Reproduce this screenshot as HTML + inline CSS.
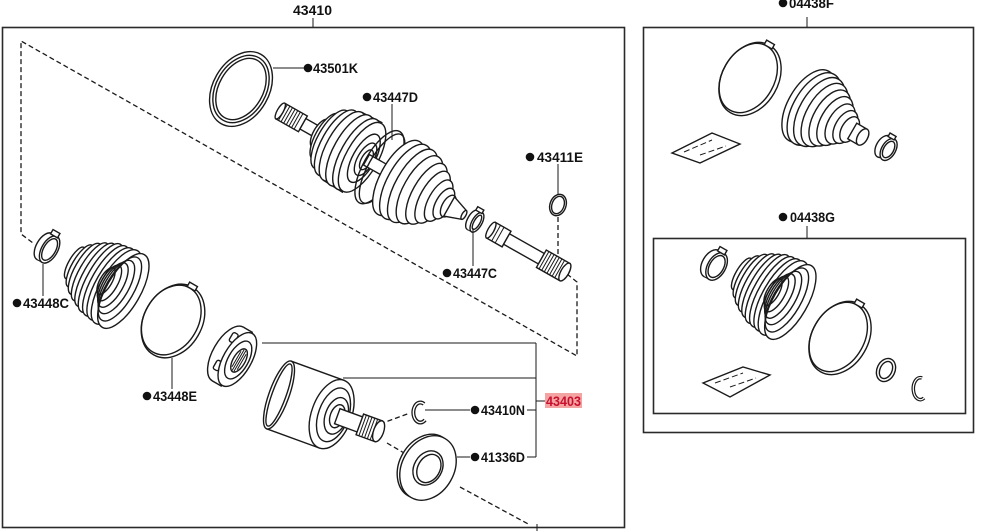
<!DOCTYPE html>
<html><head><meta charset="utf-8"><style>
html,body{margin:0;padding:0;background:#fff}
svg{display:block}
.s{fill:#fff;stroke:#1a1a1a;stroke-width:1.4}
.n{fill:none;stroke:#1a1a1a;stroke-width:1.4}
.l{fill:none;stroke:#1a1a1a;stroke-width:1}
.d{fill:none;stroke:#1a1a1a;stroke-width:1.3;stroke-dasharray:5 3}
.b{fill:none;stroke:#2a2a2a;stroke-width:1.6}
text{font-family:"Liberation Sans",sans-serif;font-weight:bold;font-size:14px;fill:#111}
</style></head><body>
<svg width="981" height="531" viewBox="0 0 981 531" xmlns="http://www.w3.org/2000/svg">
<rect width="981" height="531" fill="#fff"/>

<!-- frames -->
<rect class="b" x="2.5" y="27.5" width="622" height="500"/>
<rect class="b" x="643.5" y="27.5" width="330" height="405"/>
<rect class="b" x="653.5" y="238.5" width="312" height="175"/>

<!-- dashed outline -->
<path class="d" d="M567,274 L577,282 L577,356 L21,41 L21,234 L33,243"/>
<path class="d" d="M558,217 L558,262"/>
<path class="d" d="M380,424 L410,413"/>
<path class="d" d="M387,443 L404,453"/>
<path class="d" d="M460,487 L530,525"/>
<path class="l" d="M537,524 L537,531"/>

<!-- ring 43501K -->
<g transform="translate(241,89) rotate(30)">
<ellipse class="n" cx="0" cy="0" rx="28" ry="40"/>
<ellipse class="n" cx="0" cy="0" rx="25" ry="36"/>
<ellipse class="n" cx="0" cy="0" rx="22" ry="33"/>
</g>

<!-- top shaft assembly -->
<g transform="translate(282,112) rotate(29.5)">
<rect class="s" x="-2" y="-9" width="26" height="18"/>
<path class="l" d="M1,-9V9M4,-9V9M7,-9V9M10,-9V9M13,-9V9M16,-9V9M19,-9V9"/>
<ellipse class="s" cx="-2" cy="0" rx="3" ry="9"/>
<rect class="s" x="24" y="-6" width="22" height="12"/>
<path class="s" d="M44,-16 L56,-33 L70,-39 L92,-40 L92,40 L70,39 L56,33 L44,16 Z"/>
<ellipse class="s" cx="44" cy="0" rx="7" ry="16"/>
<ellipse class="s" cx="50" cy="0" rx="10" ry="26"/>
<ellipse class="s" cx="56" cy="0" rx="13" ry="33"/>
<ellipse class="s" cx="63" cy="0" rx="15" ry="37"/>
<ellipse class="s" cx="70" cy="0" rx="16" ry="39"/>
<ellipse class="s" cx="78" cy="0" rx="16" ry="40"/>
<ellipse class="s" cx="86" cy="0" rx="16" ry="40"/>
<ellipse class="s" cx="92" cy="0" rx="16" ry="39"/>
<ellipse class="n" cx="94" cy="0" rx="11" ry="27"/>
<ellipse class="n" cx="96" cy="0" rx="8" ry="18"/>
<ellipse class="n" cx="97" cy="0" rx="5" ry="11"/>
<rect class="s" x="97" y="-6" width="44" height="12"/>
<ellipse class="n" cx="112" cy="0" rx="16" ry="41"/>
<ellipse class="n" cx="115" cy="0" rx="14" ry="39"/>
<ellipse class="s" cx="134" cy="0" rx="18" ry="42"/>
<ellipse class="s" cx="142" cy="0" rx="18" ry="42"/>
<ellipse class="s" cx="150" cy="0" rx="17" ry="41"/>
<ellipse class="s" cx="158" cy="0" rx="16" ry="38"/>
<ellipse class="s" cx="166" cy="0" rx="14" ry="34"/>
<ellipse class="s" cx="173" cy="0" rx="12" ry="29"/>
<ellipse class="s" cx="180" cy="0" rx="10" ry="23"/>
<ellipse class="s" cx="186" cy="0" rx="8" ry="17"/>
<ellipse class="s" cx="191" cy="0" rx="6" ry="12"/>
<path class="s" d="M192,-11 L209,-5 L209,5 L192,11 Z"/>
<ellipse class="s" cx="209" cy="0" rx="2" ry="5"/>
<!-- clamp 43447C -->
<ellipse class="s" cx="219" cy="0" rx="5" ry="11"/>
<rect x="219" y="-11" width="5" height="22" fill="#fff"/>
<path class="l" d="M219,-11H224M219,11H224"/>
<ellipse class="s" cx="224" cy="0" rx="5" ry="11"/>
<ellipse class="n" cx="224" cy="0" rx="3" ry="8"/>
<rect class="s" x="217" y="-14" width="7" height="4"/>
<!-- inner shaft -->
<rect class="s" x="240" y="-9" width="18" height="18"/>
<ellipse class="s" cx="240" cy="0" rx="3" ry="9"/>
<path class="l" d="M246,-9V9M250,-9V9"/>
<rect class="s" x="258" y="-6" width="40" height="12"/>
<rect class="s" x="298" y="-10" width="27" height="20"/>
<path class="l" d="M301,-10V10M304,-10V10M307,-10V10M310,-10V10M313,-10V10M316,-10V10M319,-10V10"/>
<ellipse class="s" cx="325" cy="0" rx="4" ry="10"/>
</g>

<!-- ring 43411E -->
<g transform="translate(558,205) rotate(20)">
<ellipse class="n" cx="0" cy="0" rx="8" ry="11"/>
<ellipse class="n" cx="0" cy="0" rx="6" ry="9"/>
</g>

<!-- clamp 43448C -->
<g transform="translate(47,248) rotate(30)">
<ellipse class="s" cx="-3" cy="0" rx="8" ry="15"/>
<rect x="-3" y="-15" width="6" height="30" fill="#fff"/>
<path class="l" d="M-3,-15H3M-3,15H3"/>
<ellipse class="s" cx="3" cy="0" rx="8" ry="15"/>
<ellipse class="n" cx="3" cy="0" rx="6" ry="12"/>
<rect class="s" x="-4" y="-19" width="8" height="5"/>
</g>

<!-- boot left (43448C boot) -->
<g transform="translate(106,281) rotate(30)">
<ellipse class="s" cx="-36" cy="0" rx="6" ry="18"/>
<ellipse class="s" cx="-30" cy="0" rx="8" ry="24"/>
<ellipse class="s" cx="-24" cy="0" rx="10" ry="29"/>
<ellipse class="s" cx="-18" cy="0" rx="11" ry="33"/>
<ellipse class="s" cx="-12" cy="0" rx="12" ry="36"/>
<ellipse class="s" cx="-6" cy="0" rx="13" ry="39"/>
<ellipse class="s" cx="0" cy="0" rx="14" ry="40"/>
<ellipse class="s" cx="6" cy="0" rx="15" ry="41"/>
<ellipse class="s" cx="12" cy="0" rx="16" ry="42"/>
<ellipse class="s" cx="20" cy="0" rx="17" ry="42"/>
<ellipse class="n" cx="16" cy="0" rx="14" ry="36"/>
<ellipse class="n" cx="12" cy="0" rx="12" ry="30"/>
<ellipse class="n" cx="8" cy="0" rx="10" ry="25"/>
<ellipse class="n" cx="4" cy="0" rx="8" ry="20"/>
<ellipse class="n" cx="0" cy="0" rx="6" ry="15"/>
</g>

<!-- band 43448E -->
<g transform="translate(173,321) rotate(30)">
<ellipse class="n" cx="0" cy="0" rx="29" ry="39"/>
<ellipse class="n" cx="-2" cy="0" rx="27" ry="37"/>
<rect class="s" x="-5" y="-42" width="9" height="5"/>
</g>

<!-- tripod nut -->
<g transform="translate(233,357) rotate(30)">
<ellipse class="s" cx="-6" cy="0" rx="15" ry="31"/>
<rect x="-6" y="-31" width="11" height="62" fill="#fff"/>
<path class="n" d="M-6,-31H5M-6,31H5"/>
<rect class="s" x="-12" y="-22" width="6" height="10" rx="2"/>
<rect class="s" x="-12" y="10" width="6" height="10" rx="2"/>
<ellipse class="s" cx="5" cy="0" rx="14" ry="30"/>
<ellipse class="n" cx="6" cy="0" rx="10" ry="21"/>
<ellipse class="s" cx="7" cy="0" rx="6" ry="13"/>
<path class="l" d="M4,-9V9M6,-12V12M8,-12V12M10,-9V9"/>
</g>

<!-- housing -->
<g transform="translate(279,395) rotate(20)">
<rect class="s" x="0" y="-36" width="56" height="72"/>
<ellipse class="s" cx="0" cy="0" rx="10" ry="36"/>
<ellipse class="n" cx="0" cy="0" rx="7" ry="33"/>
<ellipse class="s" cx="56" cy="0" rx="20" ry="36"/>
<ellipse class="n" cx="58" cy="0" rx="15" ry="28"/>
<ellipse class="s" cx="61" cy="0" rx="11" ry="19"/>
<ellipse class="n" cx="62" cy="0" rx="7" ry="12"/>
<rect class="s" x="62" y="-8" width="26" height="16"/>
<rect class="s" x="86" y="-11" width="20" height="22"/>
<path class="l" d="M89,-11V11M92,-11V11M95,-11V11M98,-11V11M101,-11V11"/>
<ellipse class="s" cx="106" cy="0" rx="5" ry="11"/>
</g>

<!-- clip 43410N -->
<path d="M424,404 A7,10 0 1,0 425,420" fill="none" stroke="#1a1a1a" stroke-width="4"/>
<path d="M424,404 A7,10 0 1,0 425,420" fill="none" stroke="#fff" stroke-width="1.4"/>

<!-- washer 41336D -->
<g transform="translate(428,468) rotate(30)">
<ellipse class="s" cx="-3" cy="0" rx="26" ry="34"/>
<ellipse class="s" cx="0" cy="0" rx="26" ry="34"/>
<ellipse class="n" cx="0" cy="0" rx="14" ry="18"/>
<ellipse class="n" cx="1" cy="0" rx="11" ry="15"/>
</g>

<!-- leaders -->
<path class="l" d="M273,68H304 M392,104V140 M558,164V195 M473,228V266 M43,264V296 M172,358V389 M425,410H470 M457,457H470 M262,343H536 M343,378H536 M536,343V457 M527,410H536 M527,457H536 M536,401H545 M313,18V27 M807,17V27 M807,226V238"/>

<!-- right box: 04438F -->
<g transform="translate(750,79) rotate(30)">
<ellipse class="n" cx="0" cy="0" rx="28" ry="39"/>
<ellipse class="n" cx="-2" cy="0" rx="26" ry="37"/>
<rect class="s" x="-5" y="-42" width="9" height="5"/>
</g>
<g transform="translate(828,117) rotate(30)">
<ellipse class="s" cx="-22" cy="0" rx="21" ry="40"/>
<ellipse class="s" cx="-16" cy="0" rx="21" ry="40"/>
<ellipse class="s" cx="-10" cy="0" rx="20" ry="38"/>
<ellipse class="s" cx="-4" cy="0" rx="18" ry="35"/>
<ellipse class="s" cx="2" cy="0" rx="16" ry="31"/>
<ellipse class="s" cx="8" cy="0" rx="14" ry="27"/>
<ellipse class="s" cx="14" cy="0" rx="12" ry="22"/>
<ellipse class="s" cx="20" cy="0" rx="10" ry="18"/>
<ellipse class="s" cx="25" cy="0" rx="8" ry="14"/>
<rect class="s" x="28" y="-9" width="12" height="18"/>
<ellipse class="s" cx="40" cy="0" rx="5" ry="9"/>
</g>
<g transform="translate(886,148) rotate(30)">
<ellipse class="s" cx="-3" cy="0" rx="7" ry="12"/>
<ellipse class="s" cx="3" cy="0" rx="7" ry="12"/>
<ellipse class="n" cx="3" cy="0" rx="5" ry="9"/>
<rect class="s" x="-4" y="-15" width="7" height="4"/>
</g>
<path class="s" d="M672,153 L712,133 L740,144 L700,163 Z"/>
<path class="l" d="M684,152 L712,140 M700,155 L726,146" stroke-dasharray="6 3"/>

<!-- inner box: 04438G -->
<g transform="translate(714,265) rotate(30)">
<ellipse class="s" cx="-3" cy="0" rx="9" ry="15"/>
<rect x="-3" y="-15" width="6" height="30" fill="#fff"/>
<path class="l" d="M-3,-15H3M-3,15H3"/>
<ellipse class="s" cx="3" cy="0" rx="9" ry="15"/>
<ellipse class="n" cx="3" cy="0" rx="7" ry="12"/>
<rect class="s" x="-4" y="-19" width="8" height="5"/>
</g>
<g transform="translate(773,292) rotate(30)">
<ellipse class="s" cx="-36" cy="0" rx="6" ry="18"/>
<ellipse class="s" cx="-30" cy="0" rx="8" ry="24"/>
<ellipse class="s" cx="-24" cy="0" rx="10" ry="29"/>
<ellipse class="s" cx="-18" cy="0" rx="11" ry="33"/>
<ellipse class="s" cx="-12" cy="0" rx="12" ry="36"/>
<ellipse class="s" cx="-6" cy="0" rx="13" ry="39"/>
<ellipse class="s" cx="0" cy="0" rx="14" ry="40"/>
<ellipse class="s" cx="6" cy="0" rx="15" ry="41"/>
<ellipse class="s" cx="12" cy="0" rx="16" ry="42"/>
<ellipse class="s" cx="20" cy="0" rx="17" ry="42"/>
<ellipse class="n" cx="16" cy="0" rx="14" ry="36"/>
<ellipse class="n" cx="12" cy="0" rx="12" ry="30"/>
<ellipse class="n" cx="8" cy="0" rx="10" ry="25"/>
<ellipse class="n" cx="4" cy="0" rx="8" ry="20"/>
<ellipse class="n" cx="0" cy="0" rx="6" ry="15"/>
</g>
<g transform="translate(840,338) rotate(30)">
<ellipse class="n" cx="0" cy="0" rx="28" ry="39"/>
<ellipse class="n" cx="-2" cy="0" rx="26" ry="37"/>
<rect class="s" x="-5" y="-42" width="9" height="5"/>
</g>
<g transform="translate(886,370) rotate(25)">
<ellipse class="n" cx="0" cy="0" rx="9" ry="12" stroke-width="2.2"/>
<ellipse class="n" cx="0" cy="0" rx="6" ry="9"/>
</g>
<path d="M922,378 A7,11 0 1,0 924,398" fill="none" stroke="#1a1a1a" stroke-width="3.6"/>
<path d="M922,378 A7,11 0 1,0 924,398" fill="none" stroke="#fff" stroke-width="1.2"/>
<path class="s" d="M703,383 L743,367 L770,375 L730,397 Z"/>
<path class="l" d="M715,383 L743,373 M730,387 L756,378" stroke-dasharray="6 3"/>

<!-- dots -->
<g fill="#111">
<circle cx="308" cy="68" r="4.3"/>
<circle cx="367" cy="97" r="4.3"/>
<circle cx="530" cy="157" r="4.3"/>
<circle cx="447" cy="273" r="4.3"/>
<circle cx="17" cy="303" r="4.3"/>
<circle cx="147" cy="396" r="4.3"/>
<circle cx="475" cy="410" r="4.3"/>
<circle cx="475" cy="457" r="4.3"/>
<circle cx="783" cy="3" r="4.3"/>
<circle cx="783" cy="217" r="4.3"/>
</g>

<!-- labels -->
<text x="293" y="15" textLength="39" lengthAdjust="spacingAndGlyphs">43410</text>
<text x="313" y="73" textLength="45" lengthAdjust="spacingAndGlyphs">43501K</text>
<text x="373" y="102" textLength="45" lengthAdjust="spacingAndGlyphs">43447D</text>
<text x="537" y="162" textLength="46" lengthAdjust="spacingAndGlyphs">43411E</text>
<text x="453" y="278" textLength="44" lengthAdjust="spacingAndGlyphs">43447C</text>
<text x="23" y="308" textLength="46" lengthAdjust="spacingAndGlyphs">43448C</text>
<text x="153" y="401" textLength="44" lengthAdjust="spacingAndGlyphs">43448E</text>
<text x="481" y="415" textLength="44" lengthAdjust="spacingAndGlyphs">43410N</text>
<text x="481" y="462" textLength="44" lengthAdjust="spacingAndGlyphs">41336D</text>
<text x="789" y="8" textLength="45" lengthAdjust="spacingAndGlyphs">04438F</text>
<text x="790" y="222" textLength="45" lengthAdjust="spacingAndGlyphs">04438G</text>
<rect x="545" y="393" width="37" height="15" fill="#f4a3a3"/>
<text x="546" y="406" textLength="35" lengthAdjust="spacingAndGlyphs" style="fill:#c8102e">43403</text>
</svg>
</body></html>
